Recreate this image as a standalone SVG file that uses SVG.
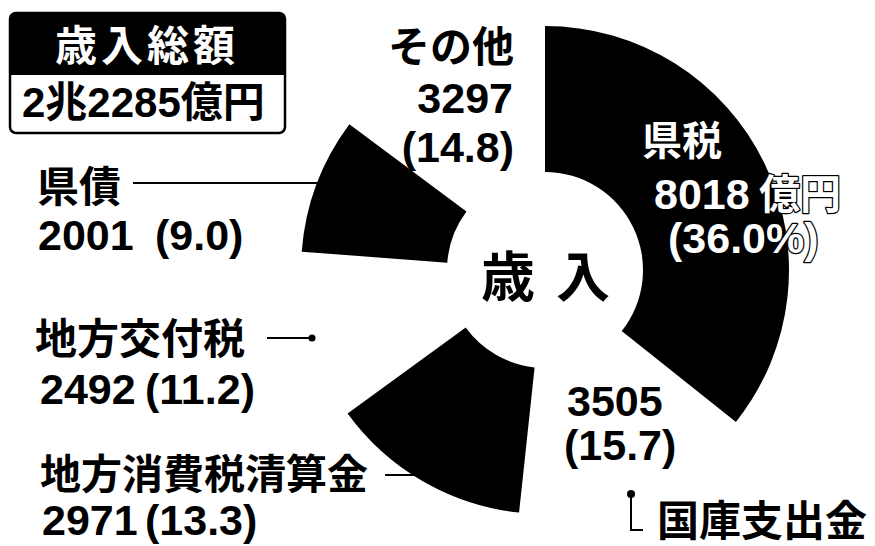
<svg xmlns="http://www.w3.org/2000/svg" width="875" height="546" viewBox="0 0 875 546">
<style>
.t{font-family:"Liberation Sans","Noto Sans CJK JP",sans-serif;font-weight:700;fill:#000}
.j{font-size:42px}
.n{font-size:43px}
.w{fill:#fff;stroke:#000;stroke-width:2.5px;paint-order:stroke;stroke-linejoin:round}
.seg{fill:#000}
.ln{stroke:#000;stroke-width:2;fill:none}
</style>
<rect width="875" height="546" fill="#fff"/>
<g id="total">
<rect x="10" y="13" width="275" height="120" rx="6" fill="#fff" stroke="#000" stroke-width="2.5"/>
<path d="M16 13H279A6 6 0 0 1 285 19V75H10V19A6 6 0 0 1 16 13Z" fill="#000"/>
<text class="t j" x="55" y="61" style="fill:#fff;letter-spacing:4px">歳入総額</text>
<text class="t j" x="22" y="117">2兆2285億円</text>
</g>
<g id="center">
<text class="t" style="font-size:54px" x="481" y="297">歳 <tspan x="556">入</tspan></text>
</g>
<g id="kenzei">
<path class="seg" d="M545 26A244 244 0 0 1 735.96 421.89L621.70 331.01A98 98 0 0 0 545 172Z"/>
<text class="t w" style="font-size:40px" x="642" y="155">県税</text>
<text class="t n w" x="654" y="209">8018 <tspan x="759" style="font-size:41px">億円</tspan></text>
<text class="t n w" x="668" y="253">(36.0%)</text>
</g>
<g id="kokko">
<text class="t n" x="567" y="416">3505</text>
<text class="t n" x="564" y="460">(15.7)</text>
<text class="t" style="font-size:42px" x="657" y="536">国庫支出金</text>
</g>
<g id="shohizei">
<path class="seg" d="M519.07 512.62A244 244 0 0 1 347.60 413.42L465.72 327.60A98 98 0 0 0 534.59 367.45Z"/>
<text class="t" style="font-size:41px" x="40" y="489">地方消費税清算金</text>
<text class="t n" x="42" y="535">2971 <tspan x="145">(13.3)</tspan></text>
</g>
<g id="koufuzei">
<text class="t j" x="35" y="354">地方交付税</text>
<text class="t n" x="40" y="404">2492 <tspan x="145">(11.2)</tspan></text>
</g>
<g id="kensai">
<path class="seg" d="M301.69 251.70A244 244 0 0 1 349.37 124.18L466.43 211.43A98 98 0 0 0 447.28 262.65Z"/>
<text class="t j" x="37" y="202">県債</text>
<text class="t n" x="38" y="250">2001 <tspan x="155">(9.0)</tspan></text>
</g>
<g id="sonota">
<text class="t j" x="514" y="62" text-anchor="end">その他</text>
<text class="t n" x="513" y="113" text-anchor="end">3297</text>
<text class="t n" x="514" y="162" text-anchor="end">(14.8)</text>
</g>
<g id="connectors">
<line class="ln" x1="133" y1="183" x2="318" y2="183"/>
<line class="ln" x1="267" y1="338" x2="312" y2="338"/>
<circle cx="312" cy="338" r="3.5" fill="#000"/>
<line class="ln" x1="385" y1="475" x2="414" y2="475"/>
<circle cx="631" cy="494" r="4" fill="#000"/>
<polyline class="ln" points="631,494 631,530 643,530"/>
</g>
</svg>
